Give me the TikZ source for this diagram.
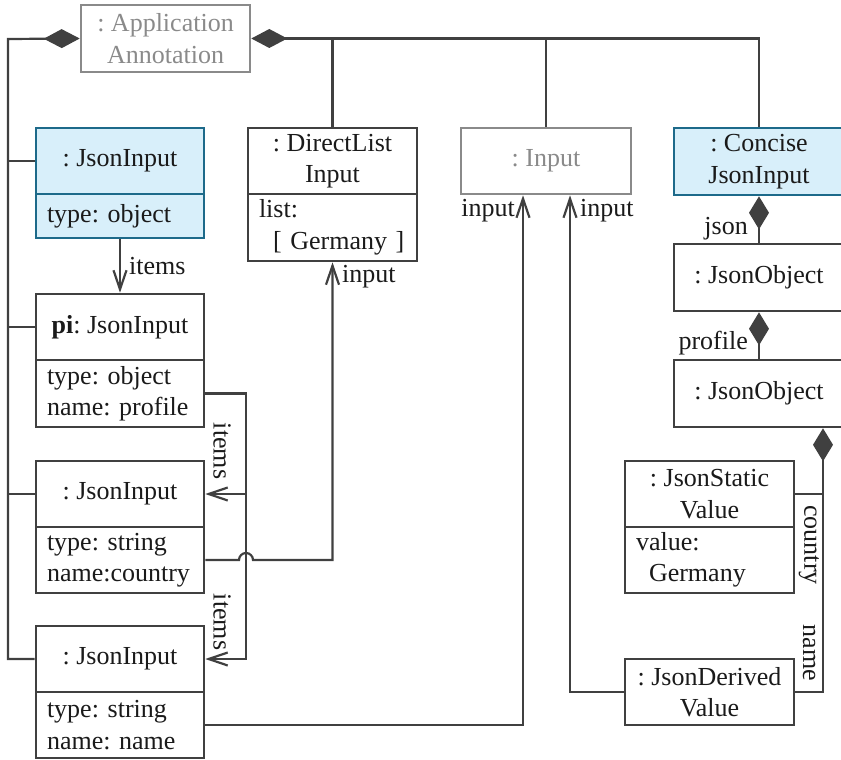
\documentclass[tikz,border=0pt]{standalone}
\usepackage{fontspec}
\setmainfont{Liberation Serif}
\usetikzlibrary{arrows.meta,calc}
\definecolor{linec}{HTML}{404040}
\definecolor{greyc}{HTML}{8A8A8A}
\definecolor{bluefill}{HTML}{D8EFFA}
\definecolor{blueline}{HTML}{1D6A8A}
\definecolor{textc}{HTML}{1A1A1A}

\begin{document}
\frenchspacing
\begin{tikzpicture}[x=1pt,y=-1pt,
  every node/.style={font=\fontsize{26}{31.5}\selectfont, text=textc},
  box/.style={draw=linec, line width=2.6pt, rectangle, inner sep=0pt,
              minimum width=168pt, minimum height=66pt, align=center},
  bluebox/.style={box, draw=blueline, fill=bluefill},
  greybox/.style={box, draw=greyc, text=greyc},
  attr/.style={align=left, inner xsep=11pt, inner ysep=0pt, text width=146pt},
  conn/.style={draw=linec, line width=2.2pt},
  arr/.style={conn, -{Straight Barb[length=19pt, width=13pt, line width=2.2pt]}},
  compL/.style={conn, {Diamond[length=36pt, width=19pt]}-},
  compV/.style={conn, {Diamond[length=33pt, width=20pt]}-},
  lbl/.style={inner sep=0pt},
  vlbl/.style={inner sep=0pt, rotate=-90},
]
\useasboundingbox (0,0) rectangle (841,760);

% ---- objects ----
\node[greybox, minimum width=169pt, minimum height=67pt] (app) at (165.5,38.5) {: Application\\Annotation};

\node[bluebox] (ji1) at (120,161) {: JsonInput};
\node[bluebox, attr, minimum height=44pt] (ji1a) at (120,216) {type: object};

\node[box] (pi) at (120,327) {\textbf{pi}: JsonInput};
\node[box, attr, minimum height=67pt] (pia) at (120,393.5) {type: object\\name: profile};

\node[box] (ji3) at (120,494) {: JsonInput};
\node[box, attr] (ji3a) at (120,560) {type: string\\name:country};

\node[box] (ji4) at (120,659) {: JsonInput};
\node[box, attr] (ji4a) at (120,725) {type: string\\name: name};

\node[box, minimum width=169pt] (dl) at (332.5,161) {: DirectList\\Input};
\node[box, attr, text width=147pt, minimum height=67pt] (dla) at (332.5,227.5) {list:\\\hspace*{14pt}[ Germany ]};

\node[greybox, minimum width=170pt] (inp) at (546,161) {: Input};

\node[bluebox, minimum width=170pt, minimum height=67pt] (cji) at (759,161.5) {: Concise\\JsonInput};
\node[box, minimum width=170pt, minimum height=67pt] (jo1) at (759,277.5) {: JsonObject};
\node[box, minimum width=170pt, minimum height=67pt] (jo2) at (759,393.5) {: JsonObject};

\node[box, minimum width=169pt] (jsv) at (709.5,494) {: JsonStatic\\Value};
\node[box, attr, text width=147pt] (jsva) at (709.5,560) {value:\\\hspace*{13pt}Germany};

\node[box, minimum width=169pt] (jdv) at (709.5,692) {: JsonDerived\\Value};

% ---- bus coordinates ----
\coordinate (lbus) at (8,39);
\coordinate (xi) at (246,0);
\coordinate (cx) at (823,0);
\coordinate (in1) at ($(inp.south)+(-23,0)$);
\coordinate (in2) at ($(inp.south)+(24,0)$);

% ---- left composition bus ----
\draw[compL] (app.west) -- (lbus) |- (ji4.west);
\draw[conn] (ji1.west) -- (lbus |- ji1.west);
\draw[conn] (pi.west) -- (lbus |- pi.west);
\draw[conn] (ji3.west) -- (lbus |- ji3.west);

% ---- right composition bus ----
\draw[compL] (app.east) -| (cji.north);
\draw[conn] (dl.north) -- (dl.north |- app.east);
\draw[conn] (inp.north) -- (inp.north |- app.east);

% ---- items ----
\draw[arr] (ji1a.south) -- (pi.north)
  node[lbl, anchor=west, pos=0.5, xshift=8pt] (it1) {items};
\draw[arr] (pia.east) -- (pia.east -| xi) -- (xi |- ji3.east) -- (ji3.east);
\draw[arr] (pia.east) -- (pia.east -| xi) -- (xi |- ji4.east) -- (ji4.east);
\node[vlbl] (it2) at (222,451) {items};
\node[vlbl] (it3) at (222,622) {items};

% ---- input from country (hop over the items line) ----
\draw[arr] (ji3a.east) -- ($(xi |- ji3a.east)+(-7pt,0)$)
  arc[start angle=180, end angle=0, radius=7pt]
  -| (dla.south);
\node[lbl, anchor=west] (inl0) at (342,277) {input};

% ---- inputs into Input ----
\draw[arr] (ji4a.east) -| (in1);
\draw[arr] (jdv.west) -| (in2);
\node[lbl, anchor=east] (inl1) at (515,211) {input};
\node[lbl, anchor=west] (inl2) at (580,211) {input};

% ---- right-hand compositions ----
\draw[compV] (cji.south) -- (jo1.north);
\node[lbl, anchor=east] (jl) at (748,229) {json};
\draw[compV] (jo1.south) -- (jo2.north);
\node[lbl, anchor=east] (pl) at (748,343) {profile};
\draw[compV] (jo2.south -| cx) -- (cx |- jdv.east) -- (jdv.east);
\draw[conn] (cx |- jsv.east) -- (jsv.east);
\node[vlbl] (cl) at (809,545) {country};
\node[vlbl] (nl) at (809,653) {name};
\end{tikzpicture}
\end{document}
